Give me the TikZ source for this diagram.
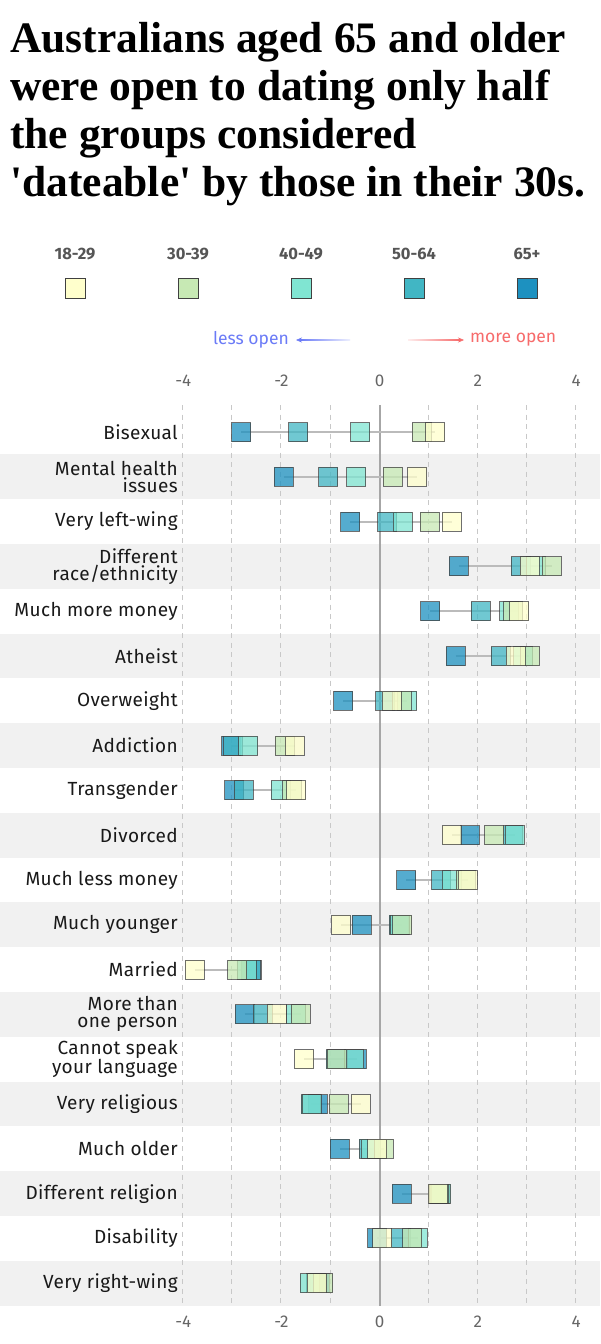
\documentclass[tikz,border=0pt]{standalone}
\usepackage{fontspec}
\setmainfont{Fira Sans}
\newfontfamily\titlefont{Liberation Serif}
\newfontfamily\rowfont[LetterSpace=2]{Fira Sans}
\usetikzlibrary{arrows.meta}
\definecolor{cA}{HTML}{FFFFCC}
\definecolor{cB}{HTML}{C7E9B4}
\definecolor{cC}{HTML}{80E5D2}
\definecolor{cD}{HTML}{41B6C4}
\definecolor{cE}{HTML}{1D91C0}
\definecolor{bandgrey}{HTML}{F1F1F1}
\definecolor{gridgrey}{HTML}{C8C8C8}
\definecolor{zerogrey}{HTML}{A6A6A6}
\definecolor{linkgrey}{HTML}{BBBBBB}
\definecolor{txtgrey}{HTML}{555555}
\definecolor{axgrey}{HTML}{666666}
\definecolor{lessblue}{HTML}{6B7BF7}
\definecolor{morered}{HTML}{F76B6B}
\tikzset{
  sq/.style={draw=black!75, draw opacity=0.75, fill opacity=0.75, line width=0.9pt, minimum size=19pt, inner sep=0pt},
  legsq/.style={draw=black!75, line width=0.9pt, minimum size=20pt, inner sep=0pt},
  legtxt/.style={text=txtgrey, font=\fontsize{16.5}{16.5}\selectfont\bfseries},
  axtxt/.style={text=axgrey, font=\fontsize{17}{17}\selectfont},
  hint/.style={inner sep=0pt, font=\fontsize{17.5}{17.5}\selectfont},
  rowtxt/.style={anchor=east, align=right, text=black!90, font=\rowfont\fontsize{19}{17}\selectfont, inner sep=0pt},
  ttl/.style={anchor=base west, inner sep=0pt, font=\titlefont\bfseries\fontsize{43.5}{48}\selectfont},
  gridln/.style={gridgrey, line width=1pt, dash pattern=on 5pt off 4.5pt},
  link/.style={linkgrey, line width=2pt}
}
\begin{document}
\begin{tikzpicture}[x=1pt,y=-1pt]
\useasboundingbox (0,0) rectangle (600,1344);
\fill[white] (0,0) rectangle (600,1344);
% title
\node[ttl] (t1) at (10,52) {Australians aged 65 and older};
\node[ttl] (t2) at (10,100) {were open to dating only half};
\node[ttl] (t3) at (10,148) {the groups considered};
\node[ttl] (t4) at (10,196) {'dateable' by those in their 30s.};
% legend
\foreach \lt/\cc/\xx in {18-29/cA/75, 30-39/cB/188, 40-49/cC/301, 50-64/cD/414, 65+/cE/527}{
  \node[legtxt] (lt\cc) at (\xx,254) {\lt};
  \node[legsq, fill=\cc] (ls\cc) at (\xx,288) {};
}
% direction hints
\node[hint, anchor=east, text=lessblue] (less) at (289,340) {less open};
\node[hint, anchor=west, text=morered] (more) at (470,340) {more open};
\coordinate (lesstip) at (296,340);
\coordinate (moretip) at (464,340);
\shade[left color=lessblue, right color=lessblue!12] (300,339.4) rectangle (350,340.6);
\shade[left color=morered!12, right color=morered] (408,339.4) rectangle (460,340.6);
\draw[lessblue, line width=0.6pt, -{Stealth[length=6pt,width=5pt]}] ([xshift=6pt]lesstip) -- (lesstip);
\draw[morered, line width=0.6pt, -{Stealth[length=6pt,width=5pt]}] ([xshift=-6pt]moretip) -- (moretip);
% bands
\foreach \i in {1,3,...,19}{
  \pgfmathsetmacro\yy{432+44.8*\i}
  \fill[bandgrey] (0,{\yy-22.4}) rectangle (600,{\yy+22.4});
}
% grid
\foreach \k in {-4,-3,-2,-1,1,2,3,4}{
  \pgfmathsetmacro\gx{round(379.7+49.1*\k)-0.5}
  \draw[gridln] (\gx,405) -- (\gx,1306);
}
\draw[zerogrey, line width=2pt] (380,405) -- (380,1306);
% axis labels
\foreach \k in {-4,-2,0,2,4}{
  \node[axtxt] (ta\k) at ({379.7+49.1*\k},381) {\k};
  \node[axtxt] (ba\k) at ({379.7+49.1*\k},1322) {\k};
}
% rows: 18-29 / 30-39 / 40-49 / 50-64 / 65+
\foreach \lab/\a/\b/\c/\d/\e [count=\i from 0] in {
  Bisexual/1.13/0.86/-0.40/-1.66/-2.82,
  {Mental health\\issues}/0.76/0.27/-0.48/-1.05/-1.95,
  Very left-wing/1.47/1.02/0.47/0.15/-0.60,
  {Different\\race/ethnicity}/3.05/3.50/3.18/2.87/1.61,
  Much more money/2.84/2.72/2.64/2.06/1.03,
  Atheist/2.77/3.05/2.92/2.46/1.55,
  Overweight/0.25/0.45/0.56/0.11/-0.74,
  Addiction/-1.73/-1.93/-2.68/-2.98/-3.02,
  Transgender/-1.70/-1.78/-2.02/-2.77/-2.96,
  Divorced/1.47/2.33/2.75/2.72/1.83,
  Much less money/1.79/1.75/1.47/1.25/0.54,
  Much younger/-0.78/0.46/0.42/0.39/-0.37,
  Married/-3.77/-2.90/-2.71/-2.63/-2.61,
  {More than\\one person}/-2.10/-1.61/-1.70/-2.38/-2.75,
  {Cannot speak\\your language}/-1.54/-0.88/-0.52/-0.90/-0.47,
  Very religious/-0.39/-0.84/-1.39/-1.40/-1.26,
  Much older/-0.05/0.08/-0.18/-0.22/-0.81,
  Different religion/1.18/1.20/1.25/1.22/0.45,
  Disability/0.05/0.66/0.77/0.43/-0.05,
  Very right-wing/-1.28/-1.15/-1.43/-1.30/-1.22}{
  \pgfmathsetmacro\yy{432+44.8*\i}
  \pgfmathsetmacro\lo{min(\a,\b,\c,\d,\e)}
  \pgfmathsetmacro\hi{max(\a,\b,\c,\d,\e)}
  \node[rowtxt] (lab\i) at (178,\yy) {\lab};
  \coordinate (lo\i) at ({379.7+49.1*\lo},\yy);
  \coordinate (hi\i) at ({379.7+49.1*\hi},\yy);
  \draw[link] (lo\i) -- (hi\i);
  \node[sq, fill=cE] (r\i e) at ({379.7+49.1*\e},\yy) {};
  \node[sq, fill=cD] (r\i d) at ({379.7+49.1*\d},\yy) {};
  \node[sq, fill=cC] (r\i c) at ({379.7+49.1*\c},\yy) {};
  \node[sq, fill=cB] (r\i b) at ({379.7+49.1*\b},\yy) {};
  \node[sq, fill=cA] (r\i a) at ({379.7+49.1*\a},\yy) {};
}
\end{tikzpicture}
\end{document}
